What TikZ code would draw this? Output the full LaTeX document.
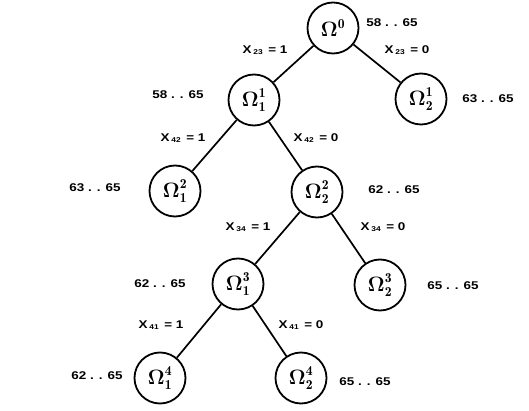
\documentclass[tikz,border=0pt]{standalone}
\usepackage{amsmath}
\usepackage{fontspec}
\newfontfamily\labfont{Liberation Sans}[FakeStretch=1.2]
\begin{document}
\begin{tikzpicture}[x=1pt,y=-1pt,
  om/.style={draw,circle,line width=1.8pt,minimum size=51pt,inner sep=0pt,font=\fontsize{19.5}{22}\selectfont},
  lab/.style={font=\labfont\bfseries\fontsize{11.2}{14}\selectfont,inner sep=0pt},
  edge/.style={line width=1.7pt}]
\useasboundingbox (0,0) rectangle (529,411);
\newcommand{\xv}[2]{X\,\raisebox{-1.2pt}{\fontsize{7}{8}\selectfont #1}\, = #2}
\newcommand{\Om}{\boldsymbol{\Omega}}
\node[om] (n0) at (333,28) {$\Om^{\mathbf{0}}$};
\node[om] (n11) at (254,100) {$\Om_{\mathbf{1}}^{\mathbf{1}}$};
\node[om] (n12) at (421,99) {$\Om_{\mathbf{2}}^{\mathbf{1}}$};
\node[om] (n21) at (175,191) {$\Om_{\mathbf{1}}^{\mathbf{2}}$};
\node[om] (n22) at (317,192) {$\Om_{\mathbf{2}}^{\mathbf{2}}$};
\node[om] (n31) at (238,284) {$\Om_{\mathbf{1}}^{\mathbf{3}}$};
\node[om] (n32) at (380,285) {$\Om_{\mathbf{2}}^{\mathbf{3}}$};
\node[om] (n41) at (160,378) {$\Om_{\mathbf{1}}^{\mathbf{4}}$};
\node[om] (n42) at (301,378) {$\Om_{\mathbf{2}}^{\mathbf{4}}$};
\draw[edge] (n0) -- (n11);
\draw[edge] (n0) -- (n12);
\draw[edge] (n11) -- (n21);
\draw[edge] (n11) -- (n22);
\draw[edge] (n22) -- (n31);
\draw[edge] (n22) -- (n32);
\draw[edge] (n31) -- (n41);
\draw[edge] (n31) -- (n42);
\node[lab] (b0) at (392,23) {58 . . 65};
\node[lab] (b12) at (488,99) {63 . . 65};
\node[lab] (b11) at (178,95) {58 . . 65};
\node[lab] (b21) at (95,188) {63 . . 65};
\node[lab] (b22) at (394,190) {62 . . 65};
\node[lab] (b31) at (160,284) {62 . . 65};
\node[lab] (b32) at (453,286) {65 . . 65};
\node[lab] (b41) at (97,376) {62 . . 65};
\node[lab] (b42) at (365,382) {65 . . 65};
\node[lab] (x1) at (265,50) {\xv{23}{1}};
\node[lab] (x2) at (407,50) {\xv{23}{0}};
\node[lab] (x3) at (183,138) {\xv{42}{1}};
\node[lab] (x4) at (316,138) {\xv{42}{0}};
\node[lab] (x5) at (248,227) {\xv{34}{1}};
\node[lab] (x6) at (383,227) {\xv{34}{0}};
\node[lab] (x7) at (161,325) {\xv{41}{1}};
\node[lab] (x8) at (301,325) {\xv{41}{0}};
\end{tikzpicture}
\end{document}
